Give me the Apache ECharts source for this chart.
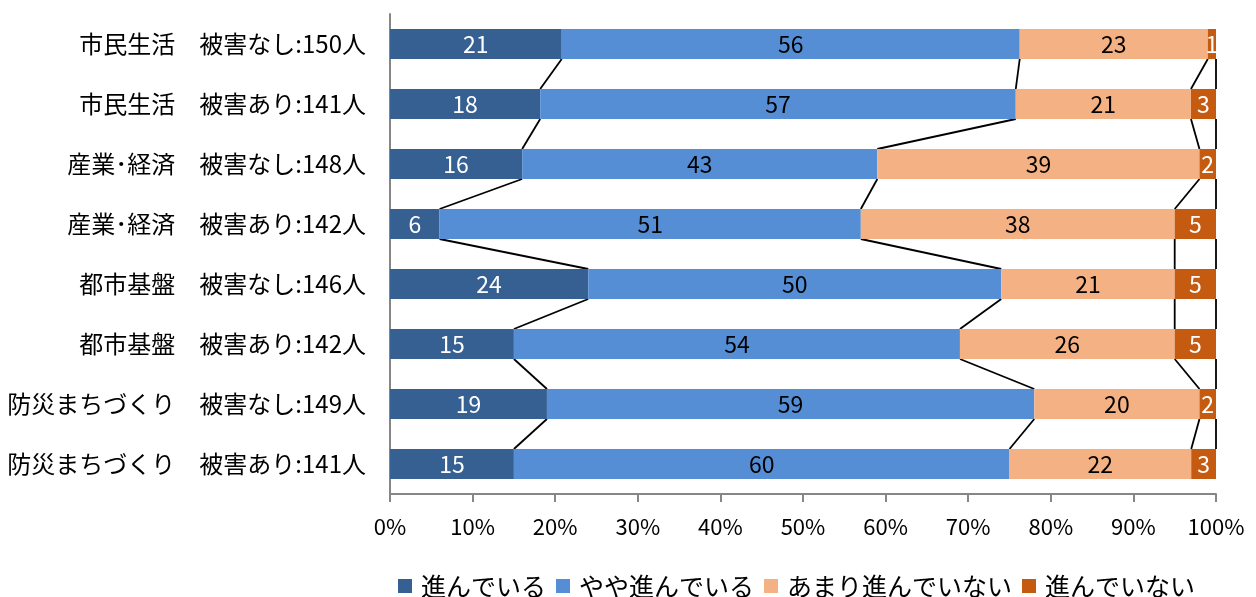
<!DOCTYPE html>
<html>
<head>
<meta charset="utf-8">
<script src="https://cdn.jsdelivr.net/npm/echarts@6/dist/echarts.min.js"></script>
<style>
  html, body { margin: 0; padding: 0; background: #fff; }
  #chart { width: 1256px; height: 597px; }
</style>
</head>
<body>
<div id="chart"></div>
<script>
// 区分（上から順）
const categories = [
  '市民生活　被害なし:150人',
  '市民生活　被害あり:141人',
  '産業･経済　被害なし:148人',
  '産業･経済　被害あり:142人',
  '都市基盤　被害なし:146人',
  '都市基盤　被害あり:142人',
  '防災まちづくり　被害なし:149人',
  '防災まちづくり　被害あり:141人'
];

// 回答の凡例名
const seriesNames = ['進んでいる', 'やや進んでいる', 'あまり進んでいない', '進んでいない'];

// 各回答の割合（%）
const susunde = [21, 18, 16, 6, 24, 15, 19, 15];
const yaya = [56, 57, 43, 51, 50, 54, 59, 60];
const amari = [23, 21, 39, 38, 21, 26, 20, 22];
const nai = [1, 3, 2, 5, 5, 5, 2, 3];

// x軸の目盛り
const tickValues = [0, 10, 20, 30, 40, 50, 60, 70, 80, 90, 100];

const colors = ['#376092', '#558ED5', '#F4B183', '#C55A11'];
const labelColors = ['#ffffff', '#000000', '#000000', '#ffffff'];

const raw = [susunde, yaya, amari, nai];
const totals = categories.map((_, i) => raw.reduce((s, arr) => s + arr[i], 0));
// 100% 積み上げ：各行の合計で正規化
const pct = raw.map(arr => arr.map((v, i) => v / totals[i] * 100));
// 区分線用の累積位置
const cum = pct.map((_, k) => categories.map((_, i) => {
  let s = 0;
  for (let j = 0; j <= k; j++) s += pct[j][i];
  return s;
}));

const FONT = '"Noto Sans CJK JP", "Noto Sans", sans-serif';
const BAR_RATIO = 0.5;

const barSeries = seriesNames.map((name, k) => ({
  name: name,
  type: 'bar',
  stack: 'total',
  barWidth: '50%',
  itemStyle: { color: colors[k] },
  label: {
    show: true,
    position: 'inside',
    color: labelColors[k],
    fontFamily: FONT,
    fontSize: 23,
    formatter: p => String(raw[k][p.dataIndex])
  },
  emphasis: { disabled: true },
  data: pct[k]
}));

// 隣り合う棒の境界を結ぶ区分線
const seriesLines = {
  type: 'custom',
  silent: true,
  clip: false,
  z: 1,
  data: categories.slice(0, -1).map((_, i) => [0, i]),
  encode: { x: 0, y: 1 },
  renderItem: (params, api) => {
    const i = params.dataIndex;
    const half = api.size([0, 1])[1] * BAR_RATIO / 2;
    const children = [];
    for (let k = 0; k < cum.length; k++) {
      const p1 = api.coord([cum[k][i], i]);
      const p2 = api.coord([cum[k][i + 1], i + 1]);
      children.push({
        type: 'line',
        shape: { x1: p1[0], y1: p1[1] + half, x2: p2[0], y2: p2[1] - half },
        style: { stroke: '#000', lineWidth: 1.8 }
      });
    }
    return { type: 'group', children: children };
  }
};

const chart = echarts.init(document.getElementById('chart'), null, { renderer: 'canvas' });
chart.setOption({
  animation: false,
  textStyle: { fontFamily: FONT },
  grid: { left: 390, right: 40, top: 14, height: 480, containLabel: false },
  legend: {
    data: seriesNames,
    top: 572,
    left: 398,
    padding: 0,
    itemWidth: 14,
    itemHeight: 14,
    itemGap: 10,
    icon: 'rect',
    textStyle: { fontFamily: FONT, fontSize: 25, color: '#000', padding: [0, 0, 0, 4], lineHeight: 28 }
  },
  xAxis: {
    type: 'value',
    min: tickValues[0],
    max: tickValues[tickValues.length - 1],
    interval: 10,
    axisLine: { show: true, lineStyle: { color: '#868686', width: 2 } },
    axisTick: { show: true, length: 8, lineStyle: { color: '#868686', width: 2 } },
    splitLine: { show: false },
    axisLabel: {
      formatter: '{value}%',
      color: '#000',
      fontFamily: FONT,
      fontSize: 22,
      margin: 22
    }
  },
  yAxis: {
    type: 'category',
    inverse: true,
    data: categories,
    axisLine: { show: true, lineStyle: { color: '#868686', width: 2 } },
    axisTick: { show: false },
    axisLabel: { color: '#000', fontFamily: FONT, fontSize: 24, margin: 24 }
  },
  series: [...barSeries, seriesLines]
});
</script>
</body>
</html>
